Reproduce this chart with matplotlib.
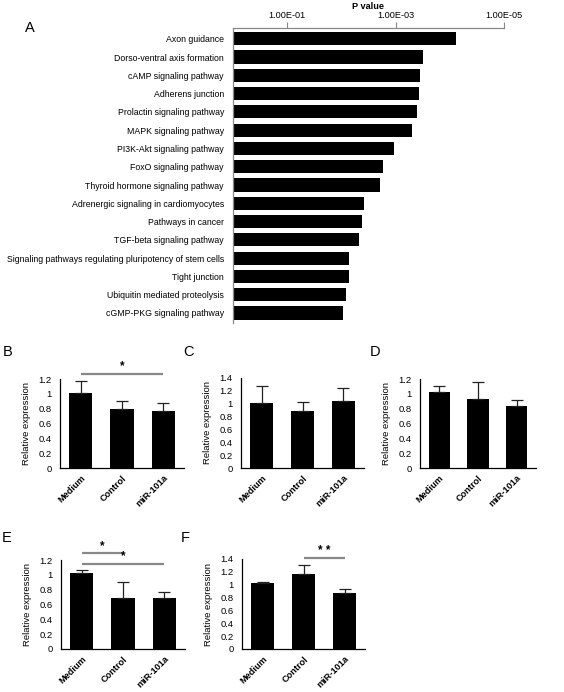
import numpy as np
import matplotlib.pyplot as plt

plt.rcParams['font.family'] = ['Liberation Sans', 'DejaVu Sans']

# panel A: KEGG pathways and their p values
pathways = ["Axon guidance", "Dorso-ventral axis formation", "cAMP signaling pathway",
            "Adherens junction", "Prolactin signaling pathway", "MAPK signaling pathway",
            "PI3K-Akt signaling pathway", "FoxO signaling pathway",
            "Thyroid hormone signaling pathway", "Adrenergic signaling in cardiomyocytes",
            "Pathways in cancer", "TGF-beta signaling pathway",
            "Signaling pathways regulating pluripotency of stem cells", "Tight junction",
            "Ubiquitin mediated proteolysis", "cGMP-PKG signaling pathway"]
p_values = [7.6e-05, 3.1e-04, 3.5e-04, 3.7e-04, 4.1e-04, 5.0e-04, 1.05e-03, 1.7e-03,
            1.9e-03, 3.9e-03, 4.2e-03, 4.8e-03, 7.1e-03, 7.2e-03, 8.3e-03, 9.5e-03]
p_ticks = [1e-1, 1e-3, 1e-5]
p_ticklabels = ["1.00E-01", "1.00E-03", "1.00E-05"]

# panels B-F: relative expression
groups = ["Medium", "Control", "miR-101a"]
B_mean = [1.01, 0.79, 0.77]
B_err = [0.16, 0.12, 0.11]
C_mean = [1.00, 0.88, 1.03]
C_err = [0.27, 0.14, 0.20]
D_mean = [1.02, 0.93, 0.83]
D_err = [0.08, 0.23, 0.09]
E_mean = [1.02, 0.69, 0.69]
E_err = [0.05, 0.21, 0.08]
F_mean = [1.02, 1.17, 0.875]
F_err = [0.03, 0.14, 0.055]

B_sig = [(0, 2, 1.27, "*")]
E_sig = [(0, 1, 1.29, "*"), (0, 2, 1.15, "*")]
F_sig = [(1, 2, 1.41, "* *")]

W, H = 564, 692
fig = plt.figure(figsize=(W / 100, H / 100), dpi=100)


def px_axes(left, top, right, bottom):
    return fig.add_axes([left / W, 1 - bottom / H, (right - left) / W, (bottom - top) / H])


# ---- panel A ----
axA = px_axes(233, 28, 504, 323)
ypos = np.arange(len(pathways))
axA.barh(ypos, np.array(p_values) - 1, left=1, height=0.72, color='black')
axA.set_xscale('log')
axA.set_xlim(1, 1e-5)
axA.set_ylim(15.55, -0.59)
axA.xaxis.tick_top()
axA.xaxis.set_label_position('top')
axA.set_xticks(p_ticks)
axA.set_xticklabels(p_ticklabels)
axA.xaxis.set_minor_locator(plt.NullLocator())
axA.tick_params(axis='x', length=4, width=0.8, color='#888888', labelsize=6.6, pad=1.5)
axA.set_yticks(ypos)
axA.set_yticklabels(pathways)
axA.tick_params(axis='y', length=0, labelsize=6.3, pad=6.5)
axA.set_xlabel("P value", fontsize=6.6, fontweight='bold', labelpad=2)
for s in ['right', 'bottom']:
    axA.spines[s].set_visible(False)
for s in ['top', 'left']:
    axA.spines[s].set_color('#888888')
    axA.spines[s].set_linewidth(0.9)
fig.text(25 / W, 1 - 28 / H, "A", fontsize=10.5, va='center', ha='left')


def expr_panel(box, mean, err, ymax, letter, letter_xy, sig=()):
    ax = px_axes(*box)
    x = np.arange(len(groups))
    ax.bar(x, mean, width=0.56, color='black')
    ax.errorbar(x, mean, yerr=[np.zeros(len(err)), err], fmt='none',
                ecolor='#222222', elinewidth=0.9, capsize=4.5, capthick=0.9)
    ax.set_xlim(-0.5, 2.5)
    ax.set_ylim(0, ymax)
    ticks = np.round(np.arange(0, ymax + 0.01, 0.2), 1)
    ax.set_yticks(ticks)
    ax.set_yticklabels([f"{v:g}" for v in ticks])
    ax.tick_params(axis='y', length=0, labelsize=6.8, pad=6)
    ax.set_xticks(x)
    ax.set_xticklabels(groups, rotation=45, ha='right', rotation_mode='anchor',
                       fontsize=6.6, fontweight='bold')
    ax.tick_params(axis='x', length=0, pad=4)
    ax.set_ylabel("Relative expression", fontsize=6.8, labelpad=5)
    for s in ['top', 'right']:
        ax.spines[s].set_visible(False)
    for s in ['left', 'bottom']:
        ax.spines[s].set_linewidth(0.9)
    for i, j, h, txt in sig:
        ax.plot([i, j], [h, h], color='#888888', lw=1.6, clip_on=False,
                solid_capstyle='butt')
        ax.text((i + j) / 2, h + 0.02, txt, ha='center', va='bottom',
                fontsize=8.5, fontweight='bold', clip_on=False)
    fig.text(letter_xy[0] / W, 1 - letter_xy[1] / H, letter, fontsize=10.5,
             va='center', ha='left')
    return ax


expr_panel((60, 379, 184, 468), B_mean, B_err, 1.2, "B", (3, 352), B_sig)
expr_panel((241, 377.5, 364, 468), C_mean, C_err, 1.4, "C", (183, 352))
expr_panel((420, 379, 536, 468), D_mean, D_err, 1.2, "D", (370, 352))
expr_panel((61, 560, 185, 649), E_mean, E_err, 1.2, "E", (2, 538), E_sig)
expr_panel((242, 559, 365, 649), F_mean, F_err, 1.4, "F", (181, 538), F_sig)

fig.savefig("out.png", dpi=100)
